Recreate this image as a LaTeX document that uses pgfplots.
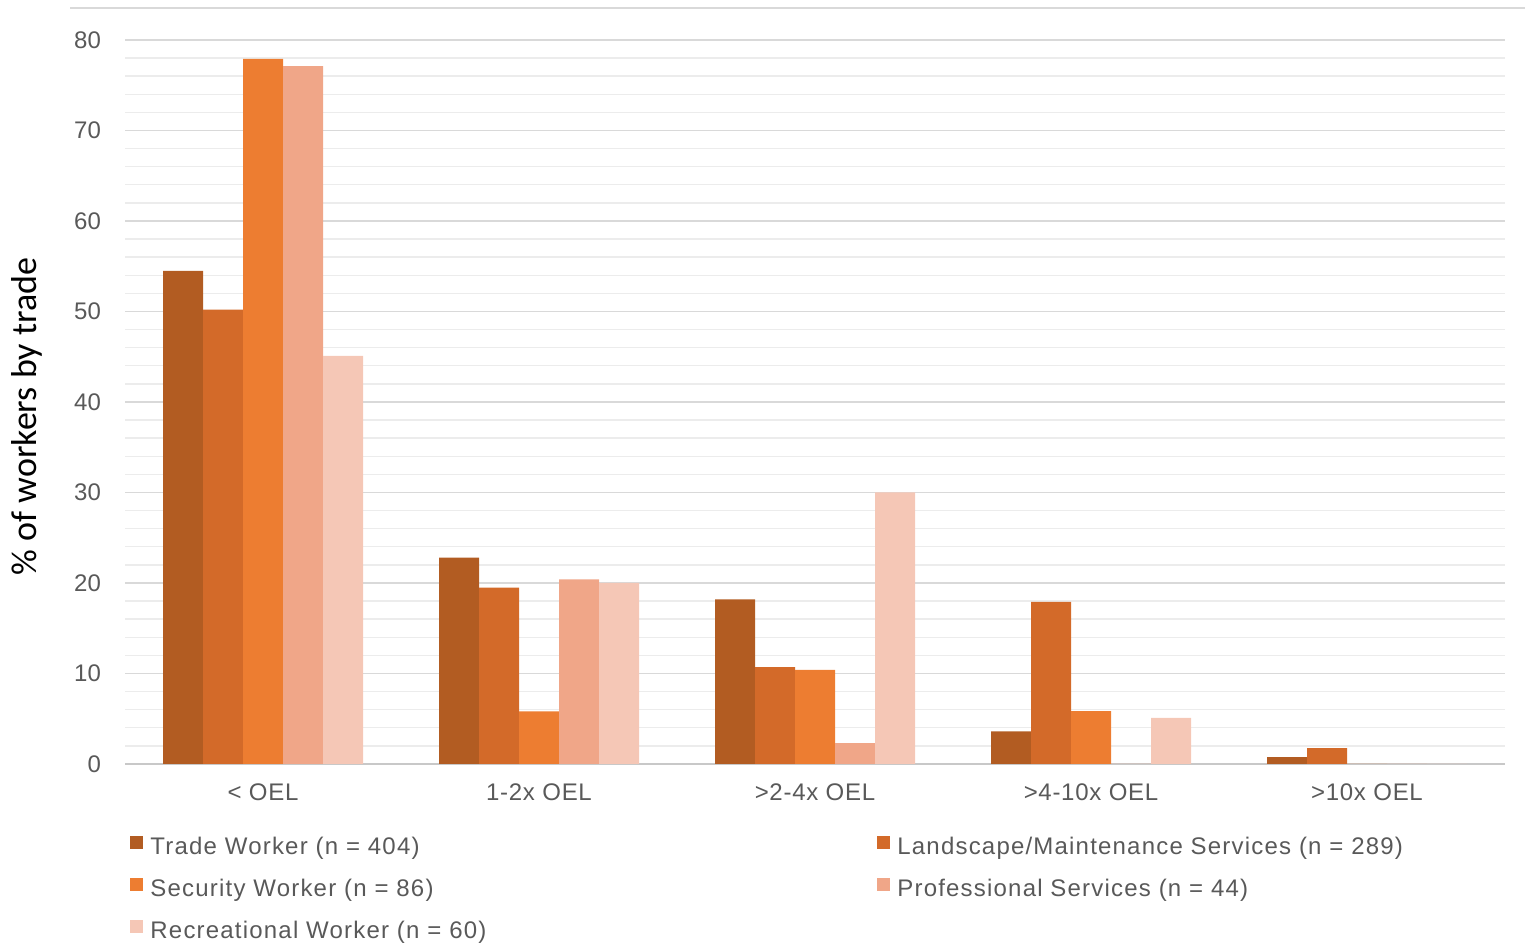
\documentclass[border=0pt]{standalone}
\usepackage{pgfplots}
\pgfplotsset{compat=1.18}
\usepackage{fontspec}
\setmainfont{Liberation Sans}
\newfontfamily\calibri{Carlito}
\definecolor{cTrade}{RGB}{178,92,34}
\definecolor{cLand}{RGB}{211,106,41}
\definecolor{cSec}{RGB}{237,125,49}
\definecolor{cProf}{RGB}{240,166,136}
\definecolor{cRec}{RGB}{245,199,182}
\definecolor{tickgray}{RGB}{89,89,89}
\definecolor{gridmaj}{RGB}{217,217,217}
\definecolor{gridmin}{RGB}{236,236,236}
\begin{document}
\begin{tikzpicture}[x=1pt,y=1pt]
\path[use as bounding box] (0,0) rectangle (765.5,472.5);
\draw[gridmaj, line width=1pt] (35,468.5) -- (762.5,468.5);
\begin{axis}[
  at={(62.5pt,90.5pt)}, anchor=south west,
  scale only axis, width=690pt, height=362pt,
  xmin=-0.5, xmax=4.5, ymin=0, ymax=80, enlargelimits=false,
  ybar=0pt, bar width=20pt,
  xtick={0,1,2,3,4},
  xticklabels={{< OEL},{1-2x OEL},{>2-4x OEL},{>4-10x OEL},{>10x OEL}},
  ytick={0,10,...,80}, minor ytick={2,4,...,78},
  ymajorgrids, yminorgrids,
  major grid style={gridmaj, line width=0.8pt},
  minor grid style={gridmin, line width=0.7pt},
  major tick length=0pt, minor tick length=0pt,
  axis x line*=bottom, axis y line*=left,
  y axis line style={draw=none},
  x axis line style={draw={rgb,255:red,200;green,200;blue,200}, line width=1pt, -},
  /pgf/number format/assume math mode=true,
  tick label style={font=\fontsize{12}{14}\selectfont, text=tickgray},
  yticklabel style={xshift=-8.5pt},
  xticklabel style={yshift=-6.5pt, font=\addfontfeatures{LetterSpace=3}\fontsize{12}{14}\selectfont},
  ylabel={\% of workers by trade},
  ylabel style={font=\calibri\fontsize{18}{20}\selectfont, text=black, at={(axis description cs:-0.071,0.48)}, anchor=center},
  legend columns=2,
  legend cell align=left,
  legend image code/.code={\fill[#1,draw=none] (0pt,-0.5pt) rectangle (6.5pt,6pt); \path (9pt,0pt);},
  legend style={draw=none, fill=none, at={(axis description cs:-0.0007,-0.091)}, anchor=north west,
    font=\addfontfeatures{LetterSpace=5}\fontsize{12}{14}\selectfont, text=tickgray,
    row sep=7pt, nodes={inner sep=1pt, text height=9pt, text depth=3pt},
    /tikz/every even column/.append style={column sep=194.5pt}},
]
\addplot[fill=cTrade, draw=none] coordinates {(0,54.5) (1,22.8) (2,18.2) (3,3.6) (4,0.75)};
\addplot[fill=cLand, draw=none] coordinates {(0,50.2) (1,19.5) (2,10.7) (3,17.9) (4,1.75)};
\addplot[fill=cSec, draw=none] coordinates {(0,77.9) (1,5.8) (2,10.4) (3,5.85) (4,0)};
\addplot[fill=cProf, draw=none] coordinates {(0,77.1) (1,20.4) (2,2.3) (3,0) (4,0)};
\addplot[fill=cRec, draw=none] coordinates {(0,45.1) (1,20.0) (2,30.0) (3,5.1) (4,0)};
\legend{Trade Worker (n = 404), Landscape/Maintenance Services (n = 289), Security Worker (n = 86), Professional Services (n = 44), Recreational Worker (n = 60)}
\end{axis}
\end{tikzpicture}
\end{document}
